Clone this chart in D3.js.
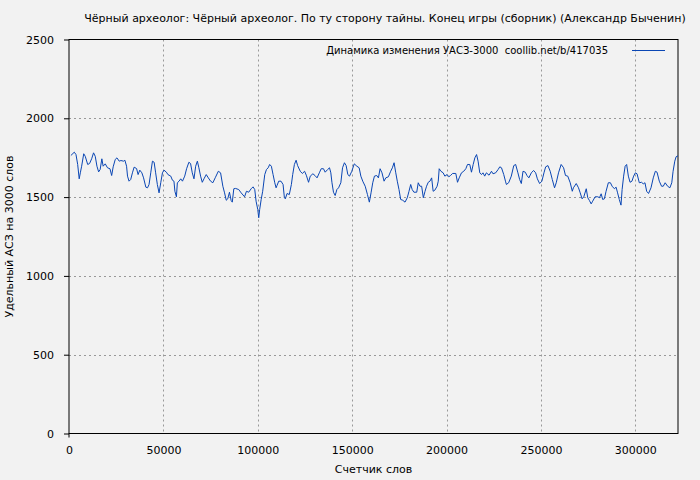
<!DOCTYPE html>
<html><head><meta charset="utf-8">
<script src="https://cdn.jsdelivr.net/npm/d3@7"></script>
<style>
html,body{margin:0;padding:0;background:#f2f2f2;}
text{font-family:"DejaVu Sans",sans-serif;font-size:11px;fill:#000;}
</style></head>
<body>
<svg id="c" width="700" height="480"></svg>
<script>
const titleText = "Чёрный археолог: Чёрный археолог. По ту сторону тайны. Конец игры (сборник) (Александр Быченин)";
const legendText = "Динамика изменения УАСЗ-3000  coollib.net/b/417035";
const xLabel = "Счетчик слов";
const yLabel = "Удельный АСЗ на 3000 слов";
const xTicks = [0, 50000, 100000, 150000, 200000, 250000, 300000];
const yTicks = [0, 500, 1000, 1500, 2000, 2500];
const xMax = 322600;

const words = [1000,2800,3700,4600,5400,6000,6700,7800,8600,9900,10900,12000,13000,13900,14800,15700,16500,17400,18100,19200,
20400,21700,22600,23400,24500,25400,26600,27500,28900,29600,30500,31000,31800,32700,33600,34500,35800,36600,37500,38600,
39500,40700,41600,42400,43300,44200,45100,45900,46800,47700,48600,49500,50300,51600,52400,53900,54800,55600,56100,56900,
57400,58300,59200,60100,61300,62300,63500,64400,65300,66200,67100,68000,68800,69700,70600,71500,72700,73800,75000,76200,
77600,79100,80300,81500,82400,83300,84100,85000,85900,86500,87300,88200,89900,91200,93000,94000,95200,96500,97500,98400,
99100,100000,100500,101000,101800,102600,103700,104600,105500,106300,107200,108100,109000,109700,110200,111100,112300,113400,114100,114600,
115500,116700,117800,118500,119400,120300,121100,122500,123600,124800,125700,126900,127800,129200,130300,131400,132600,133600,134800,135700,
137000,138000,138700,139300,140100,141000,141900,142800,144000,144900,145900,146800,147700,148600,149800,151100,152500,153700,154600,155600,
156900,158100,159100,160000,160900,161800,163000,163900,164800,165800,166900,167800,169200,170400,171300,172200,173100,173900,174800,175700,
176800,178000,179200,180100,181000,181800,182700,184200,185000,185900,186800,187700,188600,189400,190300,191200,192100,192900,193800,195000,
195600,196100,197000,198200,199100,200300,201200,202100,203200,204900,205800,206700,207900,209100,210200,211100,212300,213200,214100,215000,
215900,216700,217600,218500,219300,220200,221100,222500,223800,224600,226000,227300,228200,229100,230300,231200,231700,232900,234300,235600,
236600,237800,238700,239600,240500,241700,242600,243600,244900,246100,247200,248100,249300,250500,251600,252500,253700,254900,256000,257200,
258100,259300,260700,262000,263000,264200,265500,266600,267200,268700,269900,270800,271800,272700,274000,274800,275700,276600,277400,278700,
280100,281000,281900,282700,283600,284500,285700,286800,287700,288900,289800,290600,291500,292400,293000,293800,294600,295400,296300,297200,
298200,299100,300000,300900,302100,303300,304200,305100,306000,307000,308300,309500,310600,311500,312700,313900,314800,315800,317100,318300,
319300,320000,320900,321600,322600];

const usz = [1764,1785,1770,1707,1616,1654,1696,1775,1759,1707,1713,1743,1781,1759,1696,1660,1675,1743,1696,1711,
1686,1680,1637,1692,1739,1749,1728,1732,1728,1734,1696,1633,1601,1612,1654,1690,1681,1643,1671,1654,
1622,1563,1559,1580,1654,1728,1721,1654,1580,1527,1591,1654,1671,1658,1643,1633,1607,1601,1537,1502,
1591,1601,1616,1601,1633,1680,1721,1713,1654,1616,1696,1728,1686,1633,1594,1616,1643,1622,1601,1591,
1626,1664,1654,1569,1527,1480,1489,1531,1478,1468,1553,1555,1548,1527,1502,1537,1531,1553,1565,1548,
1474,1421,1369,1421,1485,1537,1643,1675,1686,1707,1696,1643,1591,1559,1574,1601,1601,1580,1496,1489,
1523,1516,1580,1643,1707,1734,1700,1664,1650,1664,1639,1594,1633,1648,1637,1622,1654,1680,1680,1658,
1675,1686,1654,1591,1531,1510,1548,1559,1591,1686,1718,1700,1643,1633,1664,1711,1696,1686,1633,1601,
1569,1516,1468,1527,1591,1633,1637,1622,1680,1654,1601,1622,1629,1664,1686,1718,1654,1601,1548,1485,
1480,1468,1496,1537,1580,1548,1531,1531,1591,1569,1569,1496,1537,1569,1594,1601,1622,1537,1544,1569,
1601,1680,1664,1654,1633,1643,1629,1637,1650,1650,1594,1622,1654,1664,1680,1707,1707,1658,1707,1749,
1770,1728,1654,1643,1654,1633,1654,1639,1664,1648,1654,1675,1692,1686,1643,1601,1580,1591,1633,1700,
1707,1654,1612,1586,1664,1658,1637,1622,1654,1669,1654,1616,1586,1601,1654,1692,1700,1664,1612,1559,
1591,1654,1707,1686,1637,1633,1591,1537,1559,1586,1559,1527,1489,1502,1553,1496,1478,1457,1474,1502,
1502,1496,1521,1485,1489,1537,1591,1591,1569,1553,1563,1527,1485,1449,1548,1633,1696,1707,1633,1594,
1601,1633,1654,1648,1591,1594,1584,1591,1537,1523,1559,1622,1664,1658,1601,1569,1569,1591,1569,1559,
1591,1664,1728,1756,1762];

const data = words.map((w, i) => ({w, v: usz[i]}));

const svg = d3.select("#c");
const L = 69, R = 678, T = 39.5, B = 433.5;
const x = d3.scaleLinear().domain([0, xMax]).range([L, R]);
const y = d3.scaleLinear().domain([0, 2500]).range([B, T]);

// grid
const g = svg.append("g");
g.selectAll("line.gx").data(xTicks.filter(d => d > 0)).enter().append("line")
  .attr("x1", d => Math.round(x(d)) + 0.5).attr("x2", d => Math.round(x(d)) + 0.5)
  .attr("y1", T).attr("y2", B)
  .attr("stroke", "#999").attr("stroke-width", 1).attr("stroke-dasharray", "2,3");
g.selectAll("line.gy").data(yTicks.filter(d => d > 0 && d < 2500)).enter().append("line")
  .attr("y1", d => Math.round(y(d)) + 0.5).attr("y2", d => Math.round(y(d)) + 0.5)
  .attr("x1", L).attr("x2", R)
  .attr("stroke", "#999").attr("stroke-width", 1).attr("stroke-dasharray", "2,3");

// axes
const xAxis = d3.axisBottom(x).tickValues(xTicks).tickSize(0).tickPadding(13).tickFormat(d3.format("d"));
const yAxis = d3.axisLeft(y).tickValues(yTicks).tickSize(5).tickPadding(10).tickFormat(d3.format("d"));
const gx = svg.append("g").attr("transform", `translate(0,${B})`).call(xAxis);
const gy = svg.append("g").attr("transform", `translate(${L},0)`).call(yAxis);
[gx, gy].forEach(a => {
  a.select(".domain").remove();
  a.selectAll(".tick line").attr("stroke", "#000");
  a.selectAll(".tick text").attr("font-family", "DejaVu Sans").attr("font-size", 11).attr("fill", "#000");
});

// frame
svg.append("rect").attr("x", L).attr("y", T).attr("width", R - L).attr("height", B - T)
  .attr("fill", "none").attr("stroke", "#000").attr("stroke-width", 1);
svg.append("line").attr("x1", L).attr("x2", L).attr("y1", B).attr("y2", B + 4)
  .attr("stroke", "#000").attr("stroke-width", 1);

// line
const line = d3.line().x(d => x(d.w)).y(d => y(d.v));
svg.append("path").datum(data).attr("d", line)
  .attr("fill", "none").attr("stroke", "#0a46b4").attr("stroke-width", 1);

// title
svg.append("text").attr("x", 385).attr("y", 22).attr("text-anchor", "middle").text(titleText);
// legend
svg.append("text").attr("x", 608).attr("y", 54).attr("text-anchor", "end")
  .attr("xml:space", "preserve").style("white-space", "pre").style("font-size", "10px").text(legendText);
svg.append("line").attr("x1", 632).attr("x2", 665).attr("y1", 50.5).attr("y2", 50.5)
  .attr("stroke", "#0a46b4").attr("stroke-width", 1);
// axis labels
svg.append("text").attr("x", (L + R) / 2).attr("y", 473).attr("text-anchor", "middle").text(xLabel);
svg.append("text").attr("transform", `translate(13,${(T + B) / 2}) rotate(-90)`).attr("text-anchor", "middle").text(yLabel);
</script>
</body></html>
